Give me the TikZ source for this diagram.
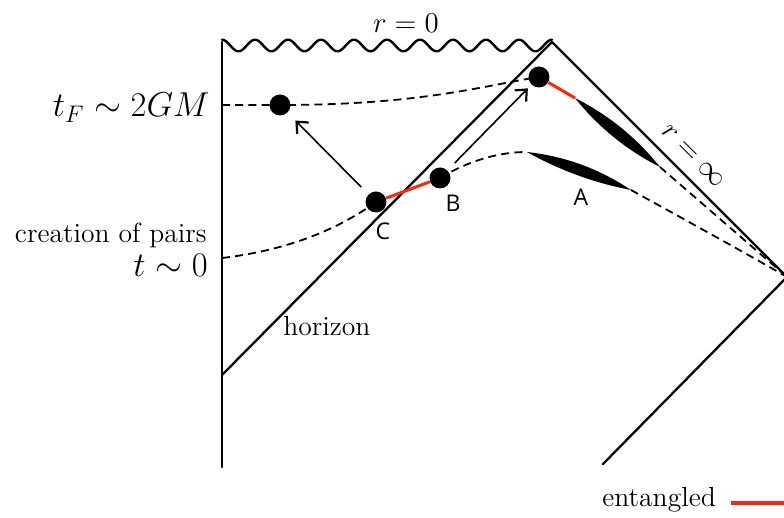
\documentclass[tikz,border=0pt]{standalone}
\usepackage{fontspec}
\newfontfamily\labfont{Open Sans}
\usetikzlibrary{arrows.meta}
\definecolor{entred}{RGB}{250,40,10}
\begin{document}
\begin{tikzpicture}[x=0.5pt,y=-0.5pt,
  mainline/.style={line width=1.15pt,line cap=round,line join=round},
  dashline/.style={line width=0.9pt,dash pattern=on 4pt off 2.6pt},
  entline/.style={draw=entred,line width=1.5pt},
  arr/.style={line width=0.8pt,-{Straight Barb[length=4.5pt,width=8pt,line width=1.1pt]}},
  dot/.style={circle,fill=black,inner sep=0pt,minimum size=10.5pt},
  abc/.style={font=\labfont\fontsize{11.5}{13}\selectfont,inner sep=0pt},
  txt/.style={font=\fontsize{13.8}{16}\selectfont,inner sep=0pt},
  mathbig/.style={font=\fontsize{17}{20}\selectfont,inner sep=0pt},
  mathmid/.style={font=\fontsize{15}{18}\selectfont,inner sep=0pt}]
\useasboundingbox (0,0) rectangle (784,518);

% frame coordinates
\coordinate (TL) at (222,42);
\coordinate (TR) at (552,42);
\coordinate (BL) at (222,467);
\coordinate (RC) at (787,277);
\coordinate (BR) at (603,464);
\coordinate (HB) at (222,375);

% singularity
\draw[mainline,line width=1.2pt] plot[domain=0:330,samples=300,smooth] ({222+\x},{45.5-5.8*cos(10.909*\x)});
% boundaries
\draw[mainline] (TL) -- (BL);
\draw[mainline] (TR) -- (RC) -- (BR);
\draw[mainline] (HB) -- (TR);

% dots
\node[dot] (D1) at (280,105) {};
\node[dot] (C) at (376,202) {};
\node[dot] (B) at (440,178) {};
\node[dot] (D3) at (539,77) {};

% blob coordinates
\coordinate (u1) at (575,98);
\coordinate (u2) at (660,167);
\coordinate (l1) at (527,152);
\coordinate (l2) at (631,190);
\coordinate (tFl) at (222,105);
\coordinate (t0l) at (222,258);

% dashed world lines
\draw[dashline] (tFl) -- (D1.center) .. controls (420,105) and (482,86) .. (D3.center);
\draw[dashline] (t0l) .. controls (290,250) and (340,228) .. (C.center);
\draw[dashline] (B.center) .. controls (470,160) and (500,152) .. (l1);
\draw[dashline] (u2) -- (RC);
\draw[dashline] (l2) .. controls (680,217) and (740,250) .. (RC);

% entangled red segments
\draw[entline] (C) -- (B);
\draw[entline] (D3) -- (u1);

% blobs
\fill (u1) .. controls (608.3,114.8) and (636.7,137.8) .. (u2)
           .. controls (626.7,150.2) and (598.3,127.2) .. cycle;
\fill (l1) .. controls (564.8,156.2) and (599.4,168.8) .. (l2)
           .. controls (594.2,182.9) and (559.6,170.3) .. cycle;

% arrows
\draw[arr,shorten <=5pt,shorten >=5.5pt] (C) -- (D1);
\draw[arr,shorten <=5pt,shorten >=2.5pt] (B) -- (D3);

% labels
\node[mathmid] (r0) at (406,23) {$r=0$};
\node[mathmid,rotate=-45] (rinf) at (693,156) {$r=\infty$};
\node[mathbig,anchor=base east] (tF) at (210,117) {$t_F\sim 2GM$};
\node[mathbig,anchor=base east] (t0) at (208,277) {$t\sim 0$};
\node[txt,anchor=base east] (cp) at (207,243) {creation of pairs};
\node[txt,anchor=base west] (hz) at (283,336) {horizon};
\node[abc] (lC) at (383,231) {C};
\node[abc] (lB) at (453,203) {B};
\node[abc] (lA) at (581,197) {A};
\node[txt,anchor=base west] (ent) at (602,507) {entangled};
\coordinate (e1) at (731,503);
\coordinate (e2) at (786,503);
\draw[entred,line width=2pt] (e1) -- (e2);
\end{tikzpicture}
\end{document}
